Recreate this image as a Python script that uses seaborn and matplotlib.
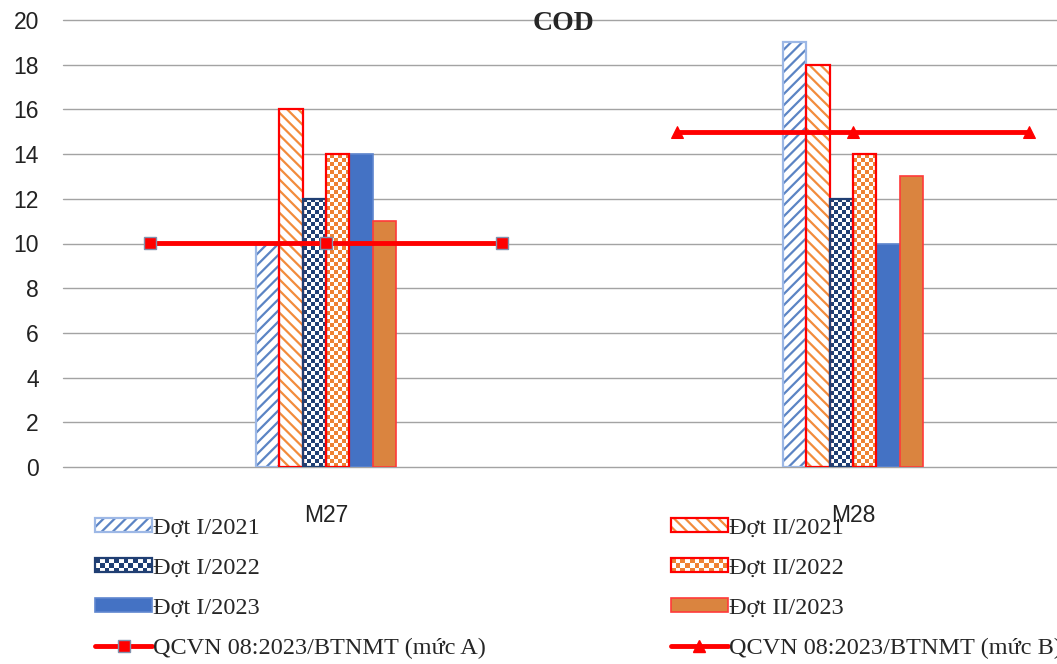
import numpy as np
import pandas as pd
import matplotlib
matplotlib.use("Agg")
import matplotlib.pyplot as plt
import seaborn as sns
from matplotlib.patches import Patch, Rectangle
from matplotlib.lines import Line2D
from matplotlib.legend_handler import HandlerBase, HandlerTuple
from matplotlib.colors import ListedColormap

# ---------------- data ----------------
sites = ["M27", "M28"]
series = ["Đợt I/2021", "Đợt II/2021", "Đợt I/2022",
          "Đợt II/2022", "Đợt I/2023", "Đợt II/2023"]
v_I_2021 = [10, 19]
v_II_2021 = [16, 18]
v_I_2022 = [12, 12]
v_II_2022 = [14, 14]
v_I_2023 = [14, 10]
v_II_2023 = [11, 13]
# standard lines are on a secondary category axis with 6 slots
qcvn_slots = [0, 1, 2, 3, 4, 5]
qcvn_A = [10, 10, 10, np.nan, np.nan, np.nan]
qcvn_B = [np.nan, np.nan, np.nan, 15, 15, 15]
qcvn_labels = ["QCVN 08:2023/BTNMT (mức A)", "QCVN 08:2023/BTNMT (mức B)"]
y_ticks = list(range(0, 21, 2))
title = "COD"

values = [v_I_2021, v_II_2021, v_I_2022, v_II_2022, v_I_2023, v_II_2023]
df = pd.DataFrame({
    "site": [s for _ in series for s in sites],
    "series": [n for n in series for _ in sites],
    "value": [v for vals in values for v in vals],
})

# ---------------- styles ----------------
# kind, main colour, second colour / hatch, edge colour
styles = [
    ("hatch", "#5B84C4", "///", "#9DB8E6"),
    ("hatch", "#F28C3C", "\\\\\\", "#FF0000"),
    ("checker", "#203F73", "white", "#203F73"),
    ("checker", "#EE8133", "white", "#FF0000"),
    ("solid", "#4472C4", None, "#5F86CF"),
    ("solid", "#DA843F", None, "#FF3A3A"),
]

sns.set_theme(style="white")
plt.rcParams["hatch.linewidth"] = 1.6
sans = ["Liberation Sans", "DejaVu Sans"]
serif = ["Liberation Serif", "DejaVu Serif"]

W, H = 1057, 664
fig = plt.figure(figsize=(W / 100, H / 100), dpi=100)
ax_left, ax_right, ax_top, ax_bot = 62.5, 1116.5, 20, 467
ax = fig.add_axes([ax_left / W, 1 - ax_bot / H, (ax_right - ax_left) / W, (ax_bot - ax_top) / H])

sns.barplot(data=df, x="site", y="value", hue="series", hue_order=series, order=sites,
            palette=[s[1] for s in styles], width=0.266, saturation=1, legend=False, ax=ax,
            errorbar=None)
ax.set_xlim(-0.5, 1.5)
ax.set_ylim(0, 20)
ax.set_yticks(y_ticks)
ax.set_xlabel("")
ax.set_ylabel("")
for sp in ax.spines.values():
    sp.set_visible(False)
ax.yaxis.grid(True, color="#A3A3A3", lw=1.0)
ax.xaxis.grid(False)
ax.set_axisbelow(True)
ax.tick_params(axis="y", length=0, pad=17, labelsize=16.5, labelcolor="#222222")
ax.tick_params(axis="x", length=0, pad=27, labelsize=16.5, labelcolor="#222222")
for lab in ax.get_xticklabels() + ax.get_yticklabels():
    lab.set_family(sans)
for gl in ax.get_ygridlines():
    gl.set_clip_on(False)

fig.canvas.draw()
for cont, (kind, c1, c2, ec) in zip(ax.containers, styles):
    for p in cont.patches:
        x0, y0, w, h = p.get_x(), p.get_y(), p.get_width(), p.get_height()
        z = p.get_zorder()
        if kind == "solid":
            p.set_facecolor(c1)
            p.set_edgecolor(ec)
            p.set_linewidth(1.2)
        elif kind == "hatch":
            p.set_facecolor("white")
            p.set_edgecolor(c1)
            p.set_hatch(c2)
            p.set_linewidth(0)
            ax.add_patch(Rectangle((x0, y0), w, h, fill=False, edgecolor=ec, lw=1.6, zorder=z + 0.2))
        else:
            p.set_facecolor("white")
            p.set_linewidth(0)
            (px0, py0), (px1, py1) = ax.transData.transform([(x0, y0), (x0 + w, y0 + h)])
            nx = max(1, int(round((px1 - px0) / 4.0)))
            ny = max(1, int(round((py1 - py0) / 4.0)))
            arr = np.indices((ny, nx)).sum(0) % 2
            ax.imshow(arr, extent=(x0, x0 + w, y0, y0 + h), origin="lower", aspect="auto",
                      interpolation="nearest", cmap=ListedColormap([c1, c2]), zorder=z + 0.1)
            ax.add_patch(Rectangle((x0, y0), w, h, fill=False, edgecolor=ec, lw=1.6, zorder=z + 0.2))
ax.set_xlim(-0.5, 1.5)
ax.set_ylim(0, 20)

# secondary category axis for the standard lines
ax2 = ax.twiny()
sns.lineplot(x=qcvn_slots, y=qcvn_A, color="#FF0000", lw=3.5, marker="s", ms=8,
             mfc="#FF0000", mec="#8091AD", mew=1.0, ax=ax2)
sns.lineplot(x=qcvn_slots, y=qcvn_B, color="#FF0000", lw=3.5, marker="^", ms=9,
             mfc="#FF0000", mec="#FF0000", ax=ax2)
ax2.set_xlim(-0.5, 5.5)
ax2.set_ylim(0, 20)
ax2.set_xticks([])
ax2.set_xlabel("")
ax2.set_ylabel("")
for sp in ax2.spines.values():
    sp.set_visible(False)

# title
fig.text(563 / W, 1 - 30 / H, title, ha="center", va="baseline", fontsize=20,
         fontweight="bold", family=serif)


# ---------------- legend ----------------
class CheckerKey:
    def __init__(self, c1, c2, ec):
        self.c1, self.c2, self.ec = c1, c2, ec


class CheckerHandler(HandlerBase):
    def create_artists(self, legend, h, xd, yd, width, height, fontsize, trans):
        arts = [Rectangle((-xd, -yd), width, height, facecolor=h.c1, lw=0, transform=trans)]
        nx, ny = 12, 3
        cw, ch = width / nx, height / ny
        for i in range(nx):
            for j in range(ny):
                if (i + j) % 2 == 1:
                    arts.append(Rectangle((-xd + i * cw, -yd + j * ch), cw, ch,
                                          facecolor=h.c2, lw=0, transform=trans))
        arts.append(Rectangle((-xd, -yd), width, height, fill=False, edgecolor=h.ec,
                              lw=1.6, transform=trans))
        return arts


handles = []
for kind, c1, c2, ec in styles:
    if kind == "solid":
        handles.append(Patch(facecolor=c1, edgecolor=ec, lw=1.2))
    elif kind == "hatch":
        handles.append((Patch(facecolor="white", edgecolor=c1, hatch=c2, lw=0),
                        Patch(fill=False, edgecolor=ec, lw=1.6)))
    else:
        handles.append(CheckerKey(c1, c2, ec))
line_A = Line2D([], [], color="#FF0000", lw=3.5, marker="s", ms=8, mfc="#FF0000", mec="#8091AD")
line_B = Line2D([], [], color="#FF0000", lw=3.5, marker="^", ms=9, mfc="#FF0000", mec="#FF0000")

col1 = [handles[0], handles[2], handles[4], line_A]
col2 = [handles[1], handles[3], handles[5], line_B]
lab1 = [series[0], series[2], series[4], qcvn_labels[0]]
lab2 = [series[1], series[3], series[5], qcvn_labels[1]]

leg = fig.legend(col1 + col2, lab1 + lab2, ncol=2, loc="upper left",
                 bbox_to_anchor=(95 / W, 1 - 518 / H), frameon=False,
                 prop={"family": serif, "size": 17.5}, handlelength=2.35, handleheight=0.5,
                 handletextpad=0.05, labelspacing=0.78, columnspacing=7.6,
                 borderpad=0, borderaxespad=0,
                 handler_map={CheckerKey: CheckerHandler(), tuple: HandlerTuple(ndivide=1)})

fig.savefig("out.png", dpi=100)
